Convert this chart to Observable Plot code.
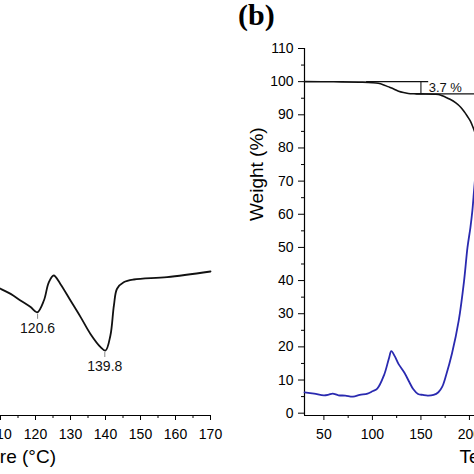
<!DOCTYPE html>
<html>
<head>
<meta charset="utf-8">
<script src="https://cdn.jsdelivr.net/npm/d3@7"></script>
<script src="https://cdn.jsdelivr.net/npm/@observablehq/plot@0.6"></script>
<style>
  html, body { margin: 0; padding: 0; background: #fff; }
  #wrap { position: relative; width: 474px; height: 474px; overflow: hidden; background: #fff; }
  #left, #right { position: absolute; top: 0; }
  #left { left: -255px; width: 495px; }
  #right { left: 244px; width: 536px; }
  #left svg, #right svg { max-width: none !important; }
  #tag { position: absolute; left: 238px; top: 0; font: bold 30px/30px "Liberation Serif", "Times New Roman", serif; color: #000; }
</style>
</head>
<body>
<div id="wrap">
  <div id="left"></div>
  <div id="right"></div>
  <div id="tag">(b)</div>
</div>
<script>
// ---- Panel (a): DSC (only the right part is visible in the crop) ----
const dscTemp = [108.5, 110, 112.9, 115.7, 118.6, 120.5, 122.4, 123.8, 125.2, 127.1, 130, 132.9, 135.7, 138.6, 140, 141.4, 142.4, 143.3, 145.2, 148.1, 157.6, 170];
const dscHeat = [32.5, 31.7, 30.4, 28.75, 27.1, 25.8, 28.75, 33.3, 35, 32.9, 28.75, 24.6, 20.4, 17.1, 16.25, 20, 27.5, 31.7, 33.3, 34, 34.6, 36];
const peakTemp = [120.6, 139.8];
const peakHeat = [25.8, 16.25];
const peakLabel = ["120.6", "139.8"];
const dscMajorTicks = [110, 120, 130, 140, 150, 160, 170];
const dscMinorTicks = [105, 115, 125, 135, 145, 155, 165];

// ---- Panel (b): TGA + derivative curve ----
const tgaTemp = [30, 60, 90, 100, 106, 111, 116, 122, 127, 132, 137, 142, 150, 165, 170, 174, 180, 186, 191, 195, 198, 201, 204, 207];
const tgaWeight = [100, 99.95, 99.85, 99.7, 99.5, 99.1, 98.5, 97.8, 97.1, 96.7, 96.45, 96.35, 96.3, 96.2, 96.0, 95.5, 94.7, 93.6, 92.3, 90.8, 89.5, 88.1, 86.0, 83.5];
const dtgTemp = [30, 40, 50, 55, 59, 65, 72, 80, 87, 95, 100, 105, 112, 117, 119.5, 123, 127, 133, 138, 142, 147, 152, 157, 163, 168, 172, 176, 182, 189, 194.5, 198, 201, 203, 205, 208];
const dtgValue = [6.3, 5.9, 5.4, 5.6, 5.9, 5.4, 5.3, 5.0, 5.5, 5.9, 6.6, 7.4, 11.5, 16.5, 18.7, 17.2, 14.8, 12.2, 9.4, 7.3, 5.8, 5.5, 5.3, 5.5, 6.3, 8.0, 11.5, 18, 28, 40, 50, 56, 61, 68, 78];
const lossLevels = [100, 96.3];
const lossOnset = 94;
const lossTemp = 150;
const lossLabel = "3.7 %";
const tgaYMajor = [0, 10, 20, 30, 40, 50, 60, 70, 80, 90, 100, 110];
const tgaYMinor = [5, 15, 25, 35, 45, 55, 65, 75, 85, 95, 105];
const tgaXMajor = [50, 100, 150, 200, 250, 300, 350, 400, 450, 500];
const tgaXMinor = [75, 125, 175, 225, 275, 325, 375, 425, 475];

const font = "'Liberation Sans', Arial, sans-serif";
const style = { fontFamily: font, fontSize: "14px", background: "transparent", color: "#000", overflow: "visible", maxWidth: "none" };

const dsc = dscTemp.map((t, i) => ({ t, h: dscHeat[i] }));
const peaks = peakTemp.map((t, i) => ({ t, h: peakHeat[i], label: peakLabel[i] }));

const left = Plot.plot({
  width: 495, height: 474,
  marginLeft: 10, marginRight: 30, marginTop: 15, marginBottom: 59,
  style,
  x: { domain: [40, 170] },
  y: { domain: [0, 100], axis: null },
  marks: [
    Plot.ruleY([0], { stroke: "#000", strokeWidth: 1.2 }),
    Plot.axisX({ ticks: dscMajorTicks, tickSize: 5, tickPadding: 9, fontSize: 14, label: null }),
    Plot.axisX({ ticks: dscMinorTicks, tickSize: 3, tickFormat: () => "", label: null }),
    Plot.line(dsc, { x: "t", y: "h", curve: "catmull-rom", stroke: "#111", strokeWidth: 1.8 }),
    Plot.ruleX(peaks, { x: "t", y1: "h", y2: "h", insetTop: 2, insetBottom: -7, stroke: "#888", strokeWidth: 1 }),
    Plot.text(peaks, { x: "t", y: "h", text: "label", dy: 16, fontSize: 14, fill: "#111" }),
    Plot.text(["Temperature (°C)"], { frameAnchor: "bottom", dy: 47, fontSize: 19, fill: "#000" })
  ]
});
document.getElementById("left").appendChild(left);

const tga = tgaTemp.map((t, i) => ({ t, w: tgaWeight[i] }));
const dtg = dtgTemp.map((t, i) => ({ t, v: dtgValue[i] }));

const right = Plot.plot({
  width: 536, height: 474,
  marginLeft: 60, marginRight: 20, marginTop: 48, marginBottom: 59,
  style,
  x: { domain: [30, 500] },
  y: { domain: [-0.7, 110] },
  marks: [
    Plot.ruleX([30], { stroke: "#000", strokeWidth: 1.2 }),
    Plot.ruleY([-0.7], { stroke: "#000", strokeWidth: 1.2 }),
    Plot.axisY({ ticks: tgaYMajor, tickSize: 6, tickPadding: 5, fontSize: 14, label: null }),
    Plot.axisY({ ticks: tgaYMinor, tickSize: 3, tickFormat: () => "", label: null }),
    Plot.axisX({ ticks: tgaXMajor, tickSize: 5, tickPadding: 9, fontSize: 14, label: null }),
    Plot.axisX({ ticks: tgaXMinor, tickSize: 3, tickFormat: () => "", label: null }),
    Plot.ruleY([lossLevels[0]], { x1: lossOnset, x2: lossTemp + 8, stroke: "#111", strokeWidth: 1.1 }),
    Plot.ruleY([lossLevels[1]], { x1: lossTemp - 5, x2: 300, stroke: "#111", strokeWidth: 1.1 }),
    Plot.ruleX([lossTemp], { y1: lossLevels[1], y2: lossLevels[0], stroke: "#111", strokeWidth: 1.1 }),
    Plot.text([lossLabel], { x: lossTemp + 8, y: (lossLevels[0] + lossLevels[1]) / 2, textAnchor: "start", fontSize: 13, fill: "#111" }),
    Plot.line(tga, { x: "t", y: "w", curve: "catmull-rom", stroke: "#111", strokeWidth: 1.6 }),
    Plot.line(dtg, { x: "t", y: "v", curve: "catmull-rom", stroke: "#2a2ab0", strokeWidth: 1.8 }),
    Plot.text(["Weight (%)"], { frameAnchor: "left", rotate: -90, dx: -48, dy: -11, fontSize: 19, fill: "#000" }),
    Plot.text(["Temperature (°C)"], { frameAnchor: "bottom", dy: 47, fontSize: 19, fill: "#000" })
  ]
});
document.getElementById("right").appendChild(right);
</script>
</body>
</html>
